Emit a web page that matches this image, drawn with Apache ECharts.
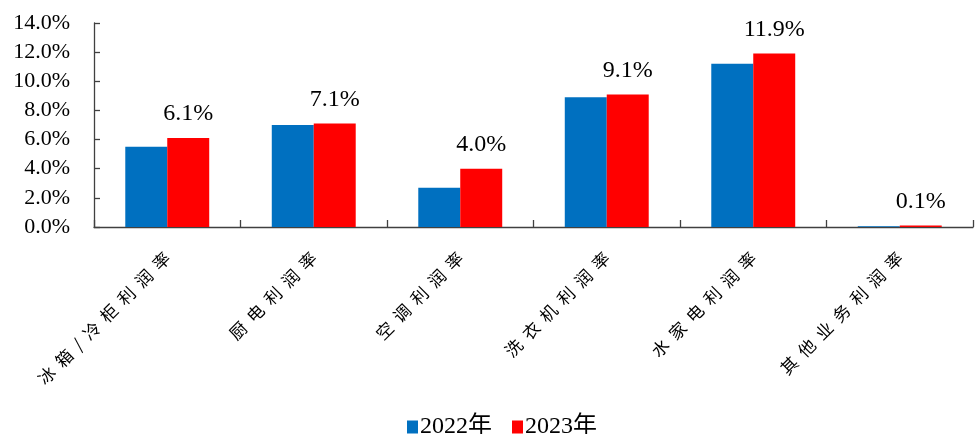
<!DOCTYPE html>
<html>
<head>
<meta charset="utf-8">
<script src="https://cdn.jsdelivr.net/npm/echarts@6/dist/echarts.min.js"></script>
<style>
  html, body { margin: 0; padding: 0; background: #fff; }
  #chart { width: 979px; height: 434px; }
</style>
</head>
<body>
<div id="chart"></div>
<script>
// Profit margin by product line, 2022 vs 2023 (%)
const categories = ['冰箱/冷柜利润率', '厨电利润率', '空调利润率', '洗衣机利润率', '水家电利润率', '其他业务利润率'];
const seriesNames = ['2022年', '2023年'];
const margin2022 = [5.5, 7.0, 2.7, 8.9, 11.2, 0.05];
const margin2023 = [6.1, 7.1, 4.0, 9.1, 11.9, 0.1];
const yTicks = { min: 0, max: 14, interval: 2 };

const SERIF = '"Liberation Serif", "Times New Roman", "Noto Sans CJK SC", serif';
const CJK = '"Noto Sans CJK SC", sans-serif';
const AXIS_COLOR = '#404040';

// spread CJK characters apart along the rotated axis labels
const spaced = s => s.split('').join('  ');

const chart = echarts.init(document.getElementById('chart'), null, { renderer: 'canvas' });

chart.setOption({
  animation: false,
  backgroundColor: '#ffffff',
  grid: { left: 94, right: 6, top: 23, bottom: 207, containLabel: false },
  legend: {
    data: seriesNames,
    left: 402,
    top: 410,
    icon: 'rect',
    itemWidth: 11,
    itemHeight: 13,
    itemGap: 20,
    formatter: name => '{s|' + name + '}',
    textStyle: {
      fontFamily: SERIF,
      fontSize: 24,
      color: '#000',
      padding: [0, 0, 0, -3],
      rich: { s: { fontFamily: SERIF, fontSize: 24, color: '#000' } }
    }
  },
  xAxis: {
    type: 'category',
    data: categories,
    axisLine: { show: true, lineStyle: { color: AXIS_COLOR, width: 1.3 } },
    axisTick: { show: true, inside: true, length: 7, alignWithLabel: false, lineStyle: { color: AXIS_COLOR, width: 1.3 } },
    axisLabel: {
      rotate: 45,
      interval: 0,
      margin: 28,
      fontFamily: CJK,
      fontSize: 17,
      color: '#000',
      formatter: spaced
    },
    splitLine: { show: false }
  },
  yAxis: {
    type: 'value',
    min: yTicks.min,
    max: yTicks.max,
    interval: yTicks.interval,
    axisLine: { show: true, lineStyle: { color: AXIS_COLOR, width: 1.3 } },
    axisTick: { show: true, inside: true, length: 6, lineStyle: { color: AXIS_COLOR, width: 1.3 } },
    axisLabel: {
      margin: 24,
      fontFamily: SERIF,
      fontSize: 22,
      color: '#000',
      formatter: v => v.toFixed(1) + '%'
    },
    splitLine: { show: false }
  },
  series: [
    {
      name: seriesNames[0],
      type: 'bar',
      data: margin2022,
      barGap: '0%',
      barCategoryGap: '42.7%',
      itemStyle: { color: '#0070C0' }
    },
    {
      name: seriesNames[1],
      type: 'bar',
      data: margin2023,
      barGap: '0%',
      barCategoryGap: '42.7%',
      itemStyle: { color: '#FF0000' },
      label: {
        show: true,
        position: 'top',
        distance: 12,
        fontFamily: SERIF,
        fontSize: 24,
        color: '#000',
        formatter: p => p.value.toFixed(1) + '%'
      }
    }
  ]
});
</script>
</body>
</html>
